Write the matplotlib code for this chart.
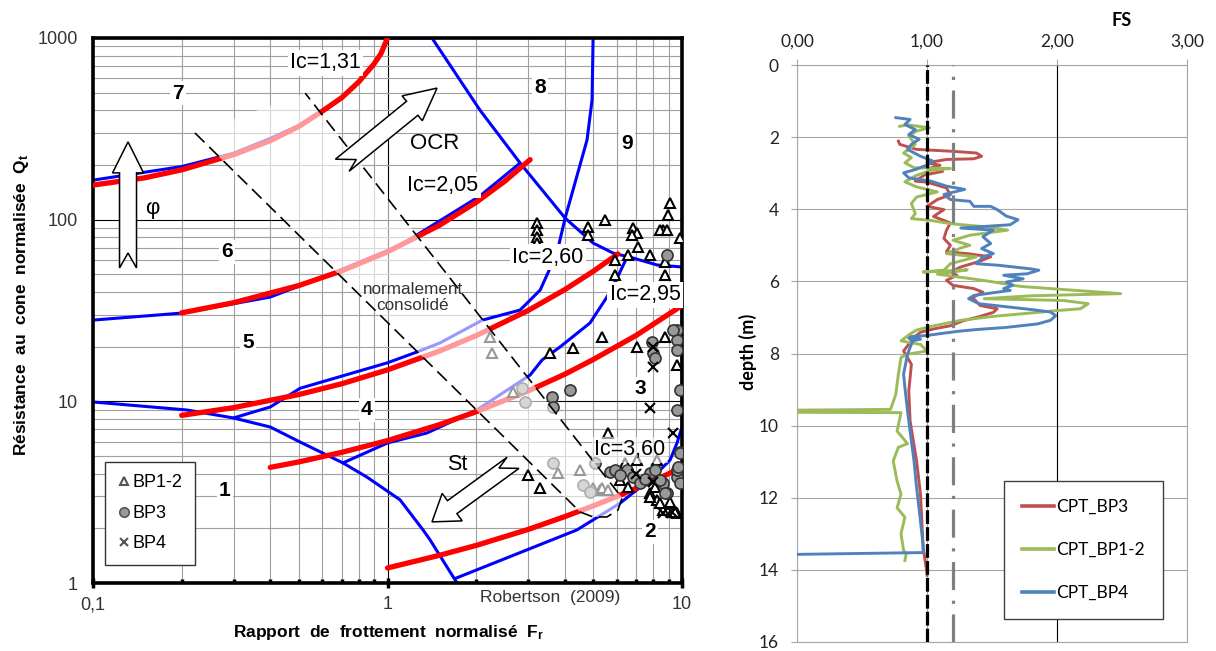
import matplotlib
matplotlib.use('Agg')
import matplotlib.pyplot as plt
import numpy as np
from matplotlib.patches import Polygon
from matplotlib.transforms import IdentityTransform
from matplotlib.ticker import FuncFormatter, NullFormatter, LogLocator

plt.rcParams['font.family'] = ['Liberation Sans', 'DejaVu Sans']
plt.rcParams['mathtext.fontset'] = 'custom'
plt.rcParams['mathtext.rm'] = 'Liberation Sans'
plt.rcParams['mathtext.bf'] = 'Liberation Sans:bold'

# ---------------- Robertson chart: zone boundaries (blue) ----------------
b67_fr = [0.1, 0.2, 0.3, 0.4, 0.5, 0.6, 0.7, 0.8, 0.9, 0.95, 1.0]
b67_qt = [165, 196, 232, 280, 330, 398, 472, 578, 722, 822, 1000]
b8_fr = [1.0, 1.416, 2.06, 2.82, 4.01, 4.99, 5.83, 6.82, 8.23, 10.0]
b8_qt = [1000, 1000, 401, 205, 102, 74.4, 65.5, 61.5, 56.3, 54.9]
b9_fr = [0.3, 0.4, 0.505, 1.0, 1.26, 1.51, 2.1, 2.82, 3.30, 3.76, 4.01, 4.76, 4.95, 4.99]
b9_qt = [8.1, 9.31, 11.8, 16.3, 18.7, 21.0, 28.0, 31.8, 41.0, 65.5, 102, 275, 456, 1000]
b56_fr = [0.1, 0.2, 0.4, 0.653, 1.1, 2.06, 2.82]
b56_qt = [28.0, 30.6, 37.5, 50.8, 72.0, 135, 205]
b1_fr = [0.1, 0.2085, 0.3, 0.4, 0.505, 0.706, 0.851, 1.103, 1.32, 1.394, 1.722]
b1_qt = [9.92, 8.96, 8.1, 7.22, 5.97, 4.58, 3.83, 2.87, 1.96, 1.73, 1.0]
b34_fr = [0.706, 1.0, 1.36, 2.01, 3.05, 3.35, 3.85, 4.87, 5.56, 6.02, 6.56]
b34_qt = [4.58, 5.9, 6.69, 8.96, 13.96, 16.9, 19.9, 27.0, 37.5, 47.7, 63.9]
b2_fr = [1.70, 4.40, 6.16, 7.97, 9.11, 9.62, 10.0, 10.0]
b2_qt = [1.06, 1.96, 2.75, 3.83, 4.75, 5.9, 7.22, 54.9]

# ---------------- Ic contours (red) ----------------
ic131_fr = [0.1, 0.15, 0.2, 0.3, 0.4, 0.5, 0.6, 0.7, 0.8, 0.9, 0.95, 1.0]
ic131_qt = [155, 170, 188, 228, 272, 326, 395, 470, 575, 720, 820, 1000]
ic205_fr = [0.2, 0.3, 0.5, 0.7, 1.0, 1.5, 2.0, 2.5, 3.05]
ic205_qt = [30.7, 34.9, 43.4, 52.3, 66.5, 93.1, 124.6, 162.6, 214]
ic260_fr = [0.2, 0.3, 0.5, 0.7, 1.0, 1.5, 2.0, 3.0, 4.0, 5.0, 6.06]
ic260_qt = [8.37, 9.23, 10.9, 12.5, 14.9, 18.9, 23.0, 31.6, 41.2, 52.0, 64.8]
ic295_fr = [0.4, 0.5, 0.7, 1.0, 1.5, 2.0, 3.0, 4.0, 5.0, 7.0, 10.0]
ic295_qt = [4.33, 4.64, 5.24, 6.08, 7.44, 8.76, 11.4, 14.1, 17.0, 23.1, 33.7]
ic360_fr = [1.0, 1.5, 2.0, 3.0, 4.0, 5.0, 6.0, 8.0, 9.84]
ic360_qt = [1.21, 1.42, 1.61, 1.97, 2.32, 2.66, 2.99, 3.65, 4.27]

# normally consolidated band (dashed outline)
nc_fr = [0.222, 4.51, 4.99, 5.56, 6.06, 6.26, 0.525]
nc_qt = [300, 2.46, 2.31, 2.31, 2.52, 2.94, 498]

# ---------------- CPT points ----------------
bp12_fr = [3.22, 3.22, 3.22, 3.22, 4.80, 4.80, 5.48, 6.82, 7.03, 6.76, 7.09, 7.79, 6.56, 5.92, 5.92,
           9.11, 8.96, 8.62, 8.42, 8.89, 9.85, 8.76, 8.76,
           3.56, 4.27, 5.35, 7.03, 8.76, 9.62, 2.23, 2.26, 2.67,
           5.61, 3.00, 3.30, 3.79, 4.51, 4.99, 5.27, 5.35, 5.61, 6.40, 7.03, 8.23,
           6.16, 6.56, 7.79, 8.23, 8.62, 9.25, 9.62, 8.10, 7.79, 9.11, 9.47, 8.42]
bp12_qt = [96, 87.7, 80.3, 74.4, 91.1, 82.3, 99.6, 90.0, 84.4, 82.3, 70.7, 63.9, 63.9, 60.0, 49.6,
           123.5, 106.1, 87.7, 87.7, 87.7, 79.3, 58.5, 49.6,
           18.45, 19.7, 22.6, 19.9, 22.6, 15.85, 22.6, 18.45, 11.25,
           6.69, 3.93, 3.33, 4.03, 4.19, 3.33, 3.25, 3.33, 3.25, 4.58, 4.75, 4.75,
           3.69, 3.38, 3.13, 2.87, 2.52, 2.46, 2.43, 3.38, 2.98, 2.79, 2.46, 2.75]
bp3_fr = [8.89, 4.17, 3.62, 3.65, 7.97, 8.10, 9.62, 9.62, 9.62, 9.85, 9.62, 9.32, 7.91,
          2.86, 2.93, 3.65, 4.61, 5.07, 4.87,
          5.69, 5.92, 6.51, 6.82, 7.20, 7.79, 8.62, 8.89, 9.62, 9.84, 9.62, 9.85, 9.84, 9.69, 8.76,
          6.16, 7.49, 8.10, 8.42]
bp3_qt = [63.9, 11.5, 10.6, 9.31, 18.45, 17.3, 24.7, 21.8, 19.2, 11.5, 8.96, 24.7, 21.3,
          11.8, 9.92, 4.58, 3.46, 4.58, 3.17,
          4.08, 4.19, 4.19, 3.83, 3.55, 4.03, 3.55, 3.13, 3.83, 3.55, 4.19, 5.26, 5.2, 4.35, 3.13,
          3.93, 3.76, 4.19, 3.69]
bp4_fr = [7.97, 7.97, 7.79, 9.32, 8.62, 9.25, 7.0, 8.0]
bp4_qt = [19.9, 15.5, 9.19, 6.69, 2.43, 2.46, 4.0, 3.6]

# ---------------- FS profiles ----------------
bp3_fs = [0.78, 0.79, 0.92, 1.18, 1.38, 1.42, 1.36, 1.15, 1.00, 1.10, 1.03, 1.12, 0.98, 0.91, 1.00,
          1.15, 1.18, 1.08, 1.00, 1.13, 1.05, 1.18, 1.15, 1.13, 1.18, 1.15, 1.31, 1.49, 1.40, 1.26,
          1.18, 1.23, 1.15, 1.20, 1.36, 1.43, 1.35, 1.41, 1.54, 1.51, 1.40, 1.28, 1.18, 1.05, 0.95,
          0.90, 0.82, 0.88, 0.86, 0.87, 0.92, 0.95, 0.97, 1.00, 1.00]
bp3_d = [2.11, 2.20, 2.34, 2.39, 2.44, 2.53, 2.60, 2.62, 2.71, 2.78, 2.85, 2.95, 3.05, 3.22, 3.25,
         3.41, 3.60, 3.73, 3.92, 4.01, 4.20, 4.38, 4.58, 4.81, 5.00, 5.18, 5.23, 5.32, 5.45, 5.60,
         5.74, 5.83, 5.97, 6.11, 6.20, 6.30, 6.45, 6.67, 6.76, 6.86, 6.98, 7.09, 7.23, 7.32, 7.41,
         7.55, 7.93, 8.30, 9.04, 9.87, 10.98, 11.90, 13.37, 14.10, 14.15]
bp12_fs = [0.79, 0.85, 1.02, 0.92, 0.86, 0.91, 0.82, 0.88, 0.83, 0.90, 1.18, 1.03, 0.92, 0.83, 0.92,
           1.08, 0.92, 0.88, 0.91, 0.88, 1.03, 1.18, 1.46, 1.62, 1.33, 1.20, 1.33, 1.28, 1.15, 1.38,
           1.18, 1.13, 0.97, 1.31, 1.08, 1.43, 1.72, 2.49, 1.80, 1.44, 2.05, 2.24, 2.18, 2.00, 1.79,
           1.51, 1.26, 1.03, 0.92, 0.87, 0.80, 0.95, 1.00, 0.85, 0.80, 0.78, 0.76, 0.72, 0.00, 0.00,
           0.80, 0.77, 0.85, 0.78, 0.74, 0.77, 0.80, 0.77, 0.83, 0.80, 0.82, 0.84, 0.83]
bp12_d = [1.70, 1.66, 1.74, 1.83, 1.97, 2.20, 2.44, 2.57, 2.71, 2.85, 2.87, 2.92, 3.06, 3.24, 3.38,
          3.52, 3.66, 3.84, 4.12, 4.26, 4.31, 4.40, 4.49, 4.58, 4.72, 4.86, 5.00, 5.05, 5.23, 5.32,
          5.51, 5.69, 5.74, 5.68, 5.80, 5.97, 6.14, 6.34, 6.40, 6.48, 6.53, 6.62, 6.76, 6.81, 6.88,
          6.97, 7.08, 7.25, 7.35, 7.46, 7.65, 7.75, 7.93, 8.02, 8.11, 8.57, 9.13, 9.55, 9.57, 9.63,
          9.64, 10.15, 10.50, 10.60, 10.98, 11.54, 11.90, 12.28, 12.54, 13.00, 13.46, 13.55, 13.74]
bp4_fs = [0.76, 0.87, 0.83, 0.91, 0.86, 0.94, 0.88, 0.85, 0.95, 1.05, 1.01, 0.91, 0.82, 0.86, 1.03,
          1.15, 1.29, 1.13, 1.18, 1.33, 1.36, 1.49, 1.54, 1.61, 1.70, 1.64, 1.26, 1.51, 1.43, 1.49,
          1.42, 1.51, 1.43, 1.38, 1.54, 1.79, 1.86, 1.77, 1.59, 1.74, 1.61, 1.66, 1.59, 1.64, 1.54,
          1.36, 1.32, 1.40, 1.60, 1.80, 1.95, 1.99, 1.95, 1.85, 1.60, 1.40, 1.25, 1.10, 1.00, 0.88,
          0.86, 0.95, 0.89, 0.85, 0.82, 0.83, 0.85, 0.87, 0.90, 0.92, 0.95, 0.97, 0.97, 0.00]
bp4_d = [1.46, 1.51, 1.65, 1.79, 1.93, 2.06, 2.20, 2.34, 2.53, 2.67, 2.76, 2.90, 2.99, 3.13, 3.22,
         3.36, 3.45, 3.59, 3.73, 3.78, 3.92, 3.92, 4.01, 4.19, 4.29, 4.43, 4.52, 4.58, 4.76, 4.95,
         5.09, 5.23, 5.32, 5.51, 5.55, 5.65, 5.69, 5.79, 5.83, 5.93, 6.02, 6.11, 6.20, 6.25, 6.30,
         6.39, 6.48, 6.62, 6.70, 6.78, 6.85, 6.95, 7.08, 7.18, 7.28, 7.33, 7.38, 7.45, 7.50, 7.53,
         7.58, 7.60, 7.65, 8.02, 8.57, 8.94, 9.59, 10.15, 10.98, 11.72, 12.65, 13.32, 13.52, 13.57]

fs_ticks = [0, 1, 2, 3]
depth_ticks = [0, 2, 4, 6, 8, 10, 12, 14, 16]


def block_arrow(ax, tail, tip, w, hw, hl, notch=None):
    # hollow block arrow built in pixel space from two data points
    p0 = ax.transData.transform(tail)
    p1 = ax.transData.transform(tip)
    d = p1 - p0
    L = np.hypot(*d)
    u = d / L
    n = np.array([-u[1], u[0]])
    if notch is not None:
        loc = [(0, w), (L - hl, w), (L - hl, hw), (L, 0), (L - hl, -hw), (L - hl, -w), (0, -w), (notch, 0)]
    else:
        loc = [(-5, w), (L - hl, w), (L - hl, hw), (L, 0), (L - hl, -hw), (L - hl, -w), (-2, -w), (11, -0.5 * w)]
    pts = [p0 + a * u + b * n for a, b in loc]
    ax.add_patch(Polygon(pts, closed=True, transform=IdentityTransform(),
                         fc='white', ec='black', lw=1.1, zorder=7))


fig = plt.figure(figsize=(12.16, 6.51), dpi=100)

# ======================= left: Robertson chart =======================
ax = fig.add_axes([93 / 1216, 68 / 651, 589 / 1216, 545 / 651])
ax.set_xscale('log')
ax.set_yscale('log')
ax.set_xlim(0.1, 10)
ax.set_ylim(1, 1000)
ax.xaxis.set_minor_locator(LogLocator(base=10, subs=range(2, 10)))
ax.yaxis.set_minor_locator(LogLocator(base=10, subs=range(2, 10)))
ax.grid(which='minor', color='#a0a0a0', lw=0.8)
ax.grid(which='major', color='black', lw=0.8)
ax.set_xticks([0.1, 1, 10])
ax.set_xticklabels(['0,1', '1', '10'])
ax.set_yticks([1, 10, 100, 1000])
ax.set_yticklabels(['1', '10', '100', '1000'])
ax.xaxis.set_minor_formatter(NullFormatter())
ax.yaxis.set_minor_formatter(NullFormatter())
ax.tick_params(axis='x', which='major', direction='inout', length=7, width=2.5, pad=6,
               labelsize=13, labelcolor='#333333')
ax.tick_params(axis='x', which='minor', direction='in', length=3, width=2.5)
ax.tick_params(axis='y', which='both', length=0, pad=11, labelsize=13, labelcolor='#333333')
for s in ax.spines.values():
    s.set_linewidth(2.6)
    s.set_color('black')

for fr, qt in [(b67_fr, b67_qt), (b8_fr, b8_qt), (b9_fr, b9_qt), (b56_fr, b56_qt),
               (b1_fr, b1_qt), (b34_fr, b34_qt), (b2_fr, b2_qt)]:
    ax.plot(fr, qt, color='#0000ff', lw=2.2, zorder=2, solid_capstyle='round')
for fr, qt in [(ic131_fr, ic131_qt), (ic205_fr, ic205_qt), (ic260_fr, ic260_qt),
               (ic295_fr, ic295_qt), (ic360_fr, ic360_qt)]:
    ax.plot(fr, qt, color='#ff0000', lw=3.8, zorder=3, solid_capstyle='round')

h1, = ax.plot(bp12_fr, bp12_qt, ls='none', marker='^', ms=7, mfc='white', mec='black', mew=1.5,
              zorder=4, label='BP1-2')
h2, = ax.plot(bp3_fr, bp3_qt, ls='none', marker='o', ms=8, mfc='#999999', mec='#333333', mew=1.2,
              zorder=4, label='BP3')
h3, = ax.plot(bp4_fr, bp4_qt, ls='none', marker='x', ms=7, mec='black', mew=1.5,
              zorder=4, label='BP4')

ax.fill(nc_fr, nc_qt, color='white', alpha=0.6, lw=0, zorder=5)
ax.plot(nc_fr, nc_qt, color='black', lw=1.2, ls=(0, (8, 4)), zorder=6)

block_arrow(ax, (0.1315, 54.2), (0.1315, 268), w=8.5, hw=15.5, hl=31, notch=15)
block_arrow(ax, (0.717, 205), (1.473, 530), w=9, hw=16, hl=32)
block_arrow(ax, (2.61, 4.47), (1.416, 2.17), w=8, hw=17, hl=25)

wb = dict(boxstyle='square,pad=0.1', fc='white', ec='none')
zone_labels = [('7', 0.1944, 498), ('6', 0.285, 66.4), ('8', 3.30, 537), ('9', 6.51, 264),
               ('5', 0.336, 20.96), ('4', 0.851, 8.96), ('1', 0.2806, 3.25), ('3', 7.20, 11.8),
               ('2', 7.79, 1.91)]
for t, x, y in zone_labels:
    ax.text(x, y, t, fontsize=15, fontweight='bold', ha='center', va='center', bbox=wb, zorder=8)
ic_labels = [('Ic=1,31', 0.614, 729), ('Ic=2,05', 1.544, 155), ('Ic=2,60', 3.51, 62.3),
             ('Ic=2,95', 7.49, 38.5)]
for t, x, y in ic_labels:
    ax.text(x, y, t, fontsize=15.5, ha='center', va='center', bbox=wb, zorder=8)
ax.text(6.66, 5.40, 'Ic=3,60', fontsize=15.5, ha='center', va='center', zorder=8,
        bbox=dict(boxstyle='square,pad=0.1', fc='white', ec='none', alpha=0.6))
ax.text(1.45, 264, 'OCR', fontsize=16, ha='center', va='center', zorder=8)
ax.text(1.722, 4.47, 'St', fontsize=15.5, ha='center', va='center', zorder=8)
ax.text(0.1586, 115.9, 'φ', fontsize=16, ha='center', va='center', zorder=8)
ax.text(1.22, 37.3, 'normalement\nconsolidé', fontsize=12.3, color='#333333', ha='center',
        va='center', linespacing=1.05, zorder=8)
ax.text(0.776, -0.027, 'Robertson  (2009)', transform=ax.transAxes, fontsize=12.5,
        color='#333333', ha='center', va='center')

leg = ax.legend(handles=[h1, h2, h3], loc='lower left', bbox_to_anchor=(0.02, 0.033),
                borderaxespad=0, fontsize=13, handlelength=0.7, handletextpad=0.15,
                labelspacing=0.75, borderpad=0.7, fancybox=False, framealpha=1,
                edgecolor='#333333', markerscale=0.85)
leg.get_frame().set_linewidth(1.0)
leg.set_zorder(9)
for ln in leg.get_lines():
    ln.set_markeredgecolor('#555555')

fig.text(388 / 1216, 1 - 632 / 651, r'Rapport  de  frottement  normalisé  $\mathbf{F_r}$',
         fontsize=12.5, fontweight='bold', ha='center', va='center')
fig.text(22 / 1216, 1 - 305 / 651, r'Résistance  au  cone  normalisée  $\mathbf{Q_t}$',
         fontsize=12.5, fontweight='bold', ha='center', va='center', rotation=90)

# ======================= right: FS vs depth =======================
rf = ['Lato', 'DejaVu Sans']
ax2 = fig.add_axes([797 / 1216, 9 / 651, 390 / 1216, 577 / 651])
ax2.set_xlim(0, 3)
ax2.set_ylim(16, 0)
ax2.xaxis.tick_top()
ax2.set_xticks(fs_ticks)
ax2.set_yticks(depth_ticks)
ax2.xaxis.set_major_formatter(FuncFormatter(lambda v, p: f'{v:.2f}'.replace('.', ',')))
ax2.grid(color='#a6a6a6', lw=0.8)
ax2.set_axisbelow(True)
for s in ax2.spines.values():
    s.set_color('#a6a6a6')
    s.set_linewidth(0.8)
ax2.tick_params(axis='both', length=4, width=0.8, color='#a6a6a6', labelsize=12.5,
                labelcolor='#222222')
ax2.tick_params(axis='x', pad=7)
ax2.tick_params(axis='y', pad=9)
for lab in ax2.get_xticklabels() + ax2.get_yticklabels():
    lab.set_family(rf)
ax2.axvline(2, color='black', lw=0.8, zorder=1.6)

l1, = ax2.plot(bp3_fs, bp3_d, color='#C0504D', lw=2.1, zorder=3, label='CPT_BP3')
l2, = ax2.plot(bp12_fs, bp12_d, color='#9BBB59', lw=2.1, zorder=3, label='CPT_BP1-2')
l3, = ax2.plot(bp4_fs, bp4_d, color='#4F81BD', lw=2.1, zorder=3, label='CPT_BP4')
ax2.axvline(1.0, color='black', lw=2.3, ls=(0, (4.3, 1.0)), zorder=5)
ax2.axvline(1.2, color='#808080', lw=2.3, ls=(0, (8.8, 3.3, 1.0, 3.3)), zorder=5)

leg2 = ax2.legend(handles=[l1, l2, l3], loc='lower left', bbox_to_anchor=(0.531, 0.040),
                  borderaxespad=0, prop={'family': rf, 'size': 12.5}, handlelength=1.8,
                  handletextpad=0.15, labelspacing=1.55, borderpad=1.05, fancybox=False,
                  framealpha=1, edgecolor='#404040')
leg2.get_frame().set_linewidth(1.0)
for ln in leg2.get_lines():
    ln.set_linewidth(2.6)

fig.text(1122 / 1216, 1 - 21 / 651, 'FS', fontsize=13, fontweight='bold', family=rf,
         ha='center', va='center')
fig.text(748 / 1216, 1 - 352 / 651, 'depth (m)', fontsize=13, fontweight='bold', family=rf,
         ha='center', va='center', rotation=90)

fig.savefig('out.png', dpi=100)
